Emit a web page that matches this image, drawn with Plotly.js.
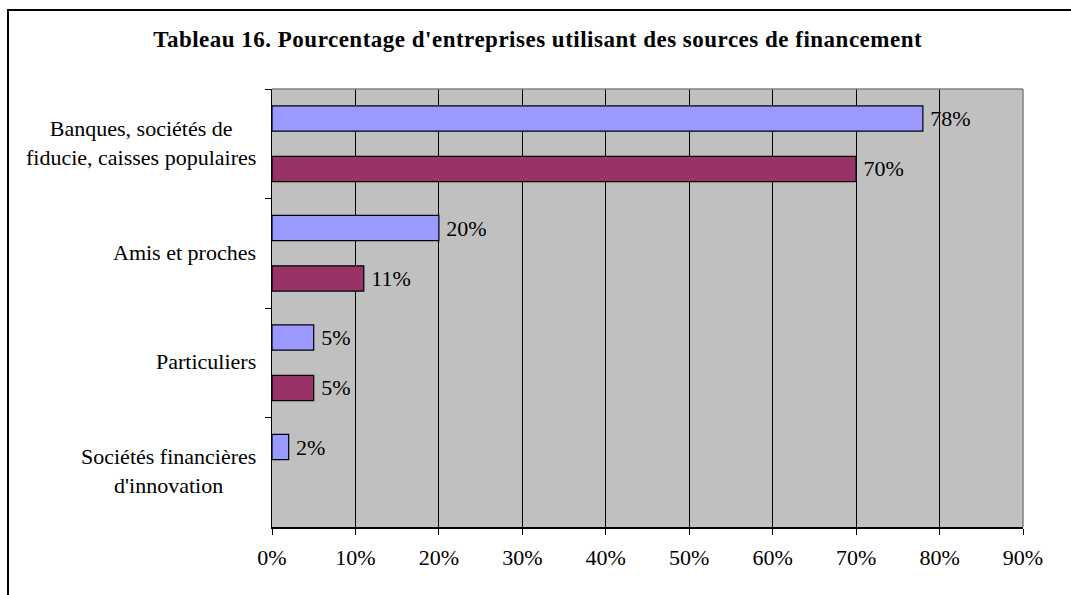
<!DOCTYPE html>
<html>
<head>
<meta charset="utf-8">
<script src="https://cdn.plot.ly/plotly-3.0.1.min.js"></script>
<style>
  html, body { margin: 0; padding: 0; background: #fff; overflow: hidden; }
  #frame { position: absolute; left: 7px; top: 9px; width: 2000px; height: 2000px; border: 2px solid #000; box-sizing: border-box; }
  #chart { position: absolute; left: 0; top: 0; width: 1071px; height: 595px; }
  #chart .gtitle { letter-spacing: 0.5px; }
</style>
</head>
<body>
<div id="frame"></div>
<div id="chart"></div>
<script>
const categories = [
  "Banques, sociétés de<br>fiducie, caisses populaires",
  "Amis et proches",
  "Particuliers",
  "Sociétés financières<br>d'innovation"
];
const seriesA = [78, 20, 5, 2];
const seriesB = [70, 11, 5, null];
const xTickValues = [0, 10, 20, 30, 40, 50, 60, 70, 80, 90];
const xTickLabels = ["0%", "10%", "20%", "30%", "40%", "50%", "60%", "70%", "80%", "90%"];
const titleText = "Tableau 16. Pourcentage d'entreprises utilisant des sources de financement";

const serif = "Liberation Serif, Times New Roman, serif";
const fs = 22;

function barTrace(vals, color) {
  return {
    type: "bar", orientation: "h",
    y: categories, x: vals,
    marker: { color: color, line: { color: "#000", width: 1.2 } },
    text: vals.map(v => v == null ? "" : "\u2009" + v + "%"),
    textposition: "outside", constraintext: "none", cliponaxis: false,
    textfont: { family: serif, size: fs, color: "#000" },
    hoverinfo: "skip", showlegend: false
  };
}

const annotations = categories.map(c => ({
  xref: "paper", yref: "y", x: 0, y: c,
  xanchor: "right", yanchor: "middle", xshift: -14, yshift: 1,
  text: c, align: "center", showarrow: false,
  font: { family: serif, size: fs, color: "#000" }
}));

const layout = {
  width: 1071, height: 595,
  paper_bgcolor: "rgba(0,0,0,0)",
  plot_bgcolor: "#C0C0C0",
  margin: { l: 272, r: 48, t: 89, b: 68 },
  barmode: "group", bargap: 0.08, bargroupgap: 0.5,
  title: {
    text: "<b>" + titleText + "</b>",
    font: { family: serif, size: 23, color: "#000" },
    x: 0.502, xref: "container", xanchor: "center",
    y: 1 - 39 / 595, yref: "container", yanchor: "middle"
  },
  xaxis: {
    range: [0, 90], tickvals: xTickValues, ticktext: xTickLabels,
    showgrid: true, gridcolor: "#000", gridwidth: 1,
    showline: true, linecolor: "#000", linewidth: 1.5,
    ticks: "outside", ticklen: 6, tickcolor: "#000",
    ticklabelstandoff: 4,
    tickfont: { family: serif, size: fs, color: "#000" },
    zeroline: false, fixedrange: true
  },
  yaxis: {
    type: "category", autorange: "reversed",
    showticklabels: false, tickson: "boundaries",
    ticks: "outside", ticklen: 6, tickcolor: "#000",
    showgrid: false, showline: true, linecolor: "#000", linewidth: 1.5,
    zeroline: false, fixedrange: true
  },
  shapes: [
    { type: "line", xref: "paper", yref: "paper", x0: 0, x1: 1, y0: 1, y1: 1, line: { color: "#808080", width: 1.5 } },
    { type: "line", xref: "paper", yref: "paper", x0: 1, x1: 1, y0: 0, y1: 1, line: { color: "#808080", width: 1.5 } }
  ],
  annotations: annotations
};

Plotly.newPlot("chart", [barTrace(seriesA, "#9999FF"), barTrace(seriesB, "#993366")], layout, { displayModeBar: false, staticPlot: true });
</script>
</body>
</html>
